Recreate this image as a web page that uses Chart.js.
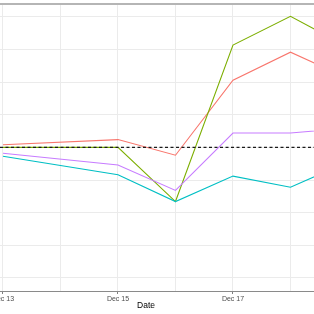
<!DOCTYPE html>
<html>
<head>
<meta charset="utf-8">
<script src="https://cdn.jsdelivr.net/npm/chart.js@4"></script>
<style>
  html, body { margin: 0; padding: 0; background: #ffffff; }
  #wrap { width: 314px; height: 314px; position: relative; }
</style>
</head>
<body>
<div id="wrap"><canvas id="c" width="314" height="314"></canvas></div>
<script>
// ---- data (day of December) ----
const days = [13, 15, 16, 17, 18, 19];
const redValues    = [100.4, 101.2, 98.8, 110.3, 114.6, 110.6];
const greenValues  = [100.0, 100.0, 91.7, 115.7, 120.1, 115.4];
const cyanValues   = [98.65, 95.8, 91.7, 95.6, 93.9, 97.8];
const purpleValues = [99.1, 97.3, 93.4, 102.2, 102.2, 103.0];
const baseline = 100;
const tickDays = [13, 14, 15, 16, 17, 18, 19];
const labeledDays = [13, 15, 17];
const xTitle = 'Date';

const toPoints = vals => days.map((d, i) => ({ x: d, y: vals[i] }));

const decorations = {
  id: 'decorations',
  afterDatasetsDraw(chart) {
    const { ctx, chartArea, scales } = chart;
    const yb = scales.y.getPixelForValue(baseline);
    ctx.save();
    ctx.beginPath();
    ctx.rect(chartArea.left, chartArea.top, chartArea.right - chartArea.left, chartArea.bottom - chartArea.top);
    ctx.clip();
    ctx.strokeStyle = '#1a1a1a';
    ctx.lineWidth = 1.1;
    ctx.setLineDash([3, 2.5]);
    ctx.beginPath();
    ctx.moveTo(chartArea.left, yb);
    ctx.lineTo(chartArea.right, yb);
    ctx.stroke();
    ctx.restore();
  },
  afterDraw(chart) {
    const { ctx } = chart;
    ctx.save();
    // top border line
    ctx.strokeStyle = '#9c9c9c';
    ctx.lineWidth = 1.5;
    ctx.beginPath();
    ctx.moveTo(0, 4);
    ctx.lineTo(chart.width, 4);
    ctx.stroke();
    // axis title
    ctx.fillStyle = '#000000';
    ctx.font = '8.5px "Liberation Sans", Arial, sans-serif';
    ctx.textAlign = 'center';
    ctx.textBaseline = 'middle';
    ctx.fillText(xTitle, 146, 306);
    ctx.restore();
  }
};

const lineDs = (vals, color) => ({
  data: toPoints(vals),
  borderColor: color,
  backgroundColor: color,
  borderWidth: 1.1,
  pointRadius: 0,
  tension: 0,
  fill: false
});

new Chart(document.getElementById('c'), {
  type: 'line',
  data: {
    datasets: [
      lineDs(purpleValues, '#C77CFF'),
      lineDs(cyanValues, '#00BFC4'),
      lineDs(greenValues, '#7CAE00'),
      lineDs(redValues, '#F8766D')
    ]
  },
  options: {
    responsive: false,
    animation: false,
    events: [],
    layout: { padding: { top: 5, left: 0, right: 0, bottom: 0 } },
    plugins: { legend: { display: false }, tooltip: { enabled: false }, title: { display: false } },
    scales: {
      x: {
        type: 'linear',
        min: 12.948,
        max: 18.409,
        afterBuildTicks: s => { s.ticks = tickDays.map(v => ({ value: v })); },
        afterFit: s => { s.height = 23; s.paddingLeft = 0; s.paddingRight = 0; },
        ticks: {
          autoSkip: false,
          maxRotation: 0,
          padding: 1,
          color: '#4d4d4d',
          font: { family: '"Liberation Sans", Arial, sans-serif', size: 7 },
          callback: v => labeledDays.includes(v) ? 'Dec ' + v : ''
        },
        grid: {
          color: '#ebebeb',
          lineWidth: 1,
          tickLength: 3,
          tickColor: ctx => (ctx.tick && labeledDays.includes(ctx.tick.value)) ? '#7f7f7f' : 'rgba(0,0,0,0)'
        },
        border: { display: true, color: '#8a8a8a', width: 1 }
      },
      y: {
        type: 'linear',
        min: 77.98,
        max: 121.84,
        afterFit: s => { s.width = 0; },
        ticks: { display: false, stepSize: 5, includeBounds: false },
        grid: { color: '#ebebeb', lineWidth: 1, drawTicks: false },
        border: { display: false }
      }
    }
  },
  plugins: [decorations]
});
</script>
</body>
</html>
